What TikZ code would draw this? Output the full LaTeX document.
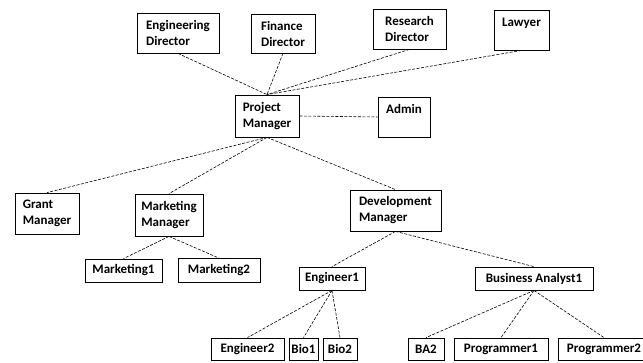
\documentclass[tikz,border=0pt]{standalone}
\usepackage{fontspec}
\setmainfont{Carlito}

\begin{document}
\begin{tikzpicture}[x=1pt,y=-1pt,
		box node/.style={rectangle,draw,line width=0.8pt,inner sep=2pt,align=left,
			font=\fontsize{13}{16}\selectfont\bfseries},
		link/.style={dash pattern=on 3pt off 1.5pt,line width=0.6pt}]
	\clip (0,0) rectangle (643,363);
	\node[box node,minimum width=82pt,minimum height=40pt] (ed) at (178,33) {Engineering\\Director};
	\node[box node,minimum width=64pt,minimum height=39pt] (fd) at (283,33.5) {Finance\\Director};
	\node[box node,minimum width=73pt,minimum height=40pt] (rd) at (409.5,29) {Research\\Director};
	\node[box node,minimum width=55pt,minimum height=40pt] (lw) at (521.5,30) {Lawyer\\~};
	\node[box node,minimum width=64pt,minimum height=42pt] (pm) at (267,116) {Project\\Manager};
	\node[box node,minimum width=52pt,minimum height=40pt] (ad) at (404,117) {Admin\\~};
	\node[box node,minimum width=64pt,minimum height=41pt] (gm) at (47,213.5) {Grant\\Manager};
	\node[box node,minimum width=68pt,minimum height=42pt] (mm) at (169,215) {Marketing\\Manager};
	\node[box node,minimum width=91pt,minimum height=41pt] (dm) at (395.5,210.5) {Development\\Manager};
	\node[box node,minimum width=77pt,minimum height=23pt] (mk1) at (123.5,270.5) {Marketing1};
	\node[box node,minimum width=82pt,minimum height=24pt] (mk2) at (219,270.5) {Marketing2};
	\node[box node,minimum width=66pt,minimum height=23pt] (en1) at (332,278.5) {Engineer1};
	\node[box node,minimum width=118pt,minimum height=23pt] (ba1) at (534,278.5) {Business Analyst1};
	\node[box node,minimum width=73pt,minimum height=22pt] (en2) at (247.5,349) {Engineer2};
	\node[box node,minimum width=29pt,minimum height=22pt] (bio1) at (303.5,349) {Bio1};
	\node[box node,minimum width=34pt,minimum height=22pt] (bio2) at (340,349) {Bio2};
	\node[box node,minimum width=36pt,minimum height=22pt] (ba2) at (426,349) {BA2};
	\node[box node,minimum width=94pt,minimum height=22pt] (pr1) at (501,349) {Programmer1};
	\node[box node,minimum width=92pt,minimum height=22pt] (pr2) at (604,349) {Programmer2};
	\path[link]
		(ed.south) edge (pm.north)
		(fd.south) edge (pm.north)
		(rd.south) edge (pm.north)
		(lw.south) edge (pm.north)
		(pm.east) edge (ad.west);
	\path[link]
		(pm.south) edge (gm.north)
		(pm.south) edge (mm.north)
		(pm.south) edge (dm.north)
		(mm.south) edge (mk1.north)
		(mm.south) edge (mk2.north)
		(dm.south) edge (en1.north)
		(dm.south) edge (ba1.north);
	\path[link]
		(en1.south) edge (en2.north)
		(en1.south) edge (bio1.north)
		(en1.south) edge (bio2.north)
		(ba1.south) edge (ba2.north)
		(ba1.south) edge (pr1.north)
		(ba1.south) edge (pr2.north);
\end{tikzpicture}
\end{document}
